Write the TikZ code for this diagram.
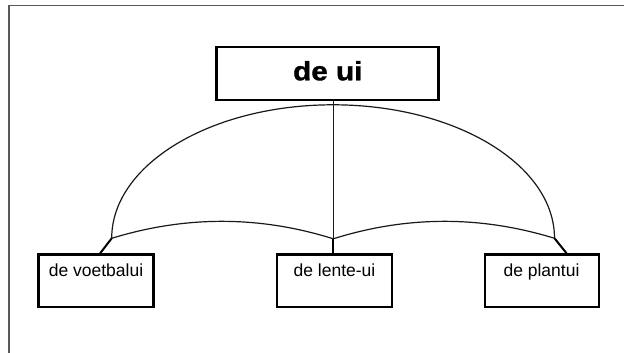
\documentclass[tikz,border=0pt]{standalone}
\usepackage{fontspec}
\setmainfont{Liberation Sans}
\newfontfamily\heavyfont{Liberation Sans}[BoldFont={Liberation Sans Bold},BoldFeatures={FakeBold=1.2}]
\begin{document}
\begin{tikzpicture}[x=1pt,y=1pt,
  frameline/.style={draw=black!65,line width=1.3pt},
  boxline/.style={draw=black,line width=2.3pt},
  archline/.style={draw=black!90,line width=1.2pt},
  stub/.style={draw=black,line width=2pt},
  smalltext/.style={font=\fontsize{17.5}{20}\selectfont,anchor=base,inner sep=0pt},
  bigtext/.style={font=\heavyfont\bfseries\fontsize{26.5}{30}\selectfont,anchor=base,inner sep=0pt}]
\useasboundingbox (0,0) rectangle (624,-353);
% outer frame (runs off the right and bottom edges)
\draw[frameline] (9,-360) -- (9,-5.5) -- (630,-5.5);
% boxes
\node[boxline,minimum width=221.8pt,minimum height=52.8pt,inner sep=0pt] (top) at (327.5,-73.5) {};
\node[boxline,minimum width=114.8pt,minimum height=52.8pt,inner sep=0pt] (left) at (96,-280.8) {};
\node[boxline,minimum width=114.8pt,minimum height=52.8pt,inner sep=0pt] (mid) at (334.5,-280.8) {};
\node[boxline,minimum width=113.8pt,minimum height=52.8pt,inner sep=0pt] (right) at (542,-280.8) {};
% texts
\node[bigtext] (toptext) at (327.8,-80.3) {\scalebox{1.12}[1]{de ui}};
\node[smalltext] (lefttext) at (96,-276.7) {de voetbalui};
\node[smalltext] (midtext) at (334.5,-276.7) {de lente-ui};
\node[smalltext] (righttext) at (541.5,-276.7) {de plantui};
% junction points
\coordinate (jl) at (111.7,-238.3);
\coordinate (jm) at (333.3,-238.8);
\coordinate (jr) at (554.5,-238.3);
\coordinate (vtop) at (top.south -| jm);
% big arch
\draw[archline] (jl) arc[start angle=180,end angle=0,x radius=221.4,y radius=133.5];
% lower arcs
\draw[archline] (jl) .. controls (185.6,-215.6) and (259.4,-215.6) .. (jm);
\draw[archline] (jm) .. controls (407.0,-215.6) and (480.8,-215.6) .. (jr);
% centre line
\draw[archline] (vtop) -- (jm);
% stubs to boxes
\draw[stub] (jl) -- (100,-253.5);
\draw[stub] (jm) -- (mid.north -| jm);
\draw[stub] (jr) -- (566.7,-253.5);
\end{tikzpicture}
\end{document}
